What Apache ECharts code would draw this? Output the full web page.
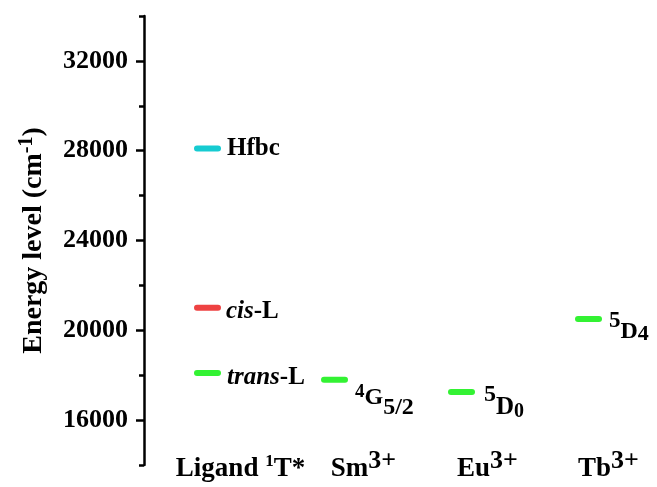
<!DOCTYPE html>
<html><head><meta charset="utf-8">
<script src="https://cdn.jsdelivr.net/npm/echarts@6/dist/echarts.min.js"></script>
<style>html,body{margin:0;padding:0;background:#fff}#c{width:657px;height:487px}</style>
</head><body><div id="c"></div>
<script>
// ---- data ----
const categories = ['Ligand 1T*', 'Sm3+', 'Eu3+', 'Tb3+'];
const levelNames = ['Hfbc', 'cis-L', 'trans-L', '4G5/2', '5D0', '5D4'];
const levelCategory = [0, 0, 0, 1, 2, 3];
const levelValues = [28100, 21000, 18100, 17800, 17250, 20500];
const yTickLabels = [16000, 20000, 24000, 28000, 32000];

// ---- styling ----
const FONT = '"Liberation Serif", "Times New Roman", serif';
const levelColors = {
  'Hfbc': '#16CBD1', 'cis-L': '#EE4242', 'trans-L': '#33F233',
  '4G5/2': '#33F233', '5D0': '#33F233', '5D4': '#33F233'
};
const levelLabelText = {
  'Hfbc': '{b|Hfbc}',
  'cis-L': '{i|cis}{b|-L}',
  'trans-L': '{i|trans}{b|-L}',
  '4G5/2': '{g4|4}{gG|G}{g52|5/2}',
  '5D0': '{e5|5}{eD|D}{e0|0}',
  '5D4': '{t5|5}{tD|D}{t4|4}'
};
const levelLabelLayout = {
  'Hfbc': {distance: 6, offset: [0, 0]},
  'cis-L': {distance: 5, offset: [0, 4]},
  'trans-L': {distance: 6, offset: [0, 5]},
  '4G5/2': {distance: 7, offset: [0, 28]},
  '5D0': {distance: 9, offset: [0, 17]},
  '5D4': {distance: 7, offset: [0, 14]}
};
const bold = (size, pad) => ({fontFamily: FONT, fontWeight: 'bold', fontSize: size, lineHeight: size,
  color: '#000', verticalAlign: 'bottom', padding: [0, 0, pad || 0, 0]});
const levelRich = {
  b: bold(25), i: Object.assign(bold(25), {fontStyle: 'italic'}),
  g4: bold(19, 18), gG: bold(24, 10), g52: bold(24, 0),
  e5: bold(24, 15), eD: bold(25, 1), e0: bold(20, 0),
  t5: bold(23, 13), tD: bold(24, 1), t4: bold(22, 0)
};
const catLabelText = {
  'Ligand 1T*': '{c0|Ligand }{s1|1}{m|T*}',
  'Sm3+': '{c1|Sm}{s3|3+}',
  'Eu3+': '{c2|Eu}{s3|3+}',
  'Tb3+': '{c3|Tb}{s3|3+}'
};
const catRich = {
  m: bold(27),
  c0: Object.assign(bold(27), {padding: [0, 0, 0, 66]}),
  c1: Object.assign(bold(27), {padding: [0, 0, 0, 58]}),
  c2: Object.assign(bold(27), {padding: [0, 0, 0, 52]}),
  c3: Object.assign(bold(27), {padding: [0, 0, 0, 40]}),
  s1: Object.assign(bold(17), {padding: [6, 0, 13, 0]}),
  s3: bold(26, 9)
};

const chart = echarts.init(document.getElementById('c'), null, {renderer: 'canvas'});
chart.setOption({
  backgroundColor: '#fff',
  animation: false,
  grid: {left: 144, right: 5, top: 16, bottom: 22, containLabel: false},
  xAxis: {
    type: 'category', data: categories, boundaryGap: true,
    axisLine: {show: false}, axisTick: {show: false}, splitLine: {show: false},
    axisLabel: {margin: -9, formatter: v => catLabelText[v], rich: catRich, interval: 0}
  },
  yAxis: [{
    type: 'value', min: 14000, max: 34000, interval: 2000, position: 'left',
    axisLine: {show: true, lineStyle: {color: '#000', width: 2.5}},
    axisTick: {show: true, customValues: yTickLabels, length: 8, lineStyle: {color: '#000', width: 2.5}},
    axisLabel: {customValues: yTickLabels, margin: 16, formatter: v => String(v),
      fontFamily: FONT, fontWeight: 'bold', fontSize: 26, color: '#000'},
    splitLine: {show: false},
    name: '{a|Energy level (cm}{s|-1}{a|)}', nameLocation: 'middle', nameGap: 96,
    nameTextStyle: {rich: {
      a: {fontFamily: FONT, fontWeight: 'bold', fontSize: 28, lineHeight: 28, color: '#000', verticalAlign: 'bottom'},
      s: {fontFamily: FONT, fontWeight: 'bold', fontSize: 20, lineHeight: 20, color: '#000', verticalAlign: 'bottom', padding: [0, 0, 11, 0]}
    }}
  }, {
    type: 'value', min: 14000, max: 34000, interval: 2000, position: 'left',
    axisLine: {show: false},
    axisTick: {show: true, length: 5, lineStyle: {color: '#000', width: 2.5}},
    axisLabel: {show: false}, splitLine: {show: false}
  }],
  series: [{
    type: 'scatter',
    symbol: 'path://M3,0 H24 A3,3 0 0 1 24,6 H3 A3,3 0 0 1 3,0 Z',
    symbolSize: [27, 6],
    itemStyle: {opacity: 1},
    emphasis: {disabled: true},
    data: levelValues.map((v, i) => {
      const n = levelNames[i];
      const lay = levelLabelLayout[n];
      return {
        name: n, value: [levelCategory[i], v],
        itemStyle: {color: levelColors[n], opacity: 1},
        label: {show: true, position: 'right', distance: lay.distance, offset: lay.offset,
          color: '#000', opacity: 1, formatter: () => levelLabelText[n], rich: levelRich}
      };
    })
  }]
});
</script></body></html>
